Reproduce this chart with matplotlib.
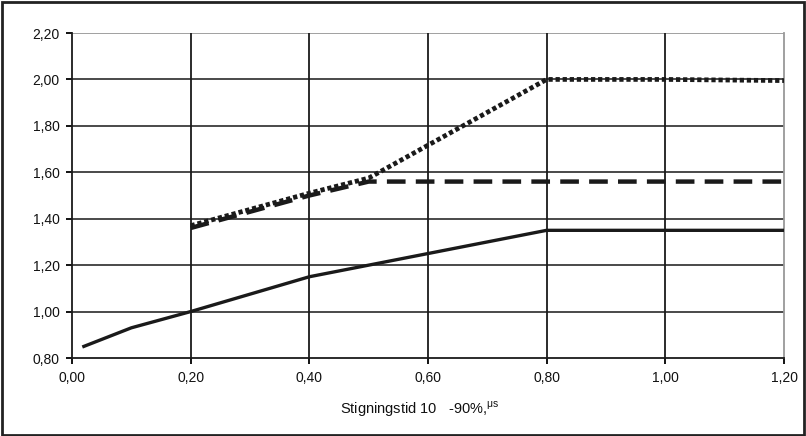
import matplotlib.pyplot as plt
from matplotlib.patches import Rectangle

plt.rcParams['font.family'] = ['Liberation Sans', 'DejaVu Sans']

# data
x_solid = [0.02, 0.10, 0.20, 0.40, 0.50, 0.60, 0.80, 1.20]
y_solid = [0.85, 0.93, 1.00, 1.15, 1.20, 1.25, 1.35, 1.35]
x_dash = [0.20, 0.40, 0.50, 0.80, 1.20]
y_dash = [1.36, 1.50, 1.56, 1.56, 1.56]
x_dot = [0.20, 0.40, 0.50, 0.80, 1.00, 1.20]
y_dot = [1.37, 1.51, 1.575, 2.00, 2.00, 1.995]

xticks = [0.0, 0.2, 0.4, 0.6, 0.8, 1.0, 1.2]
yticks = [0.8, 1.0, 1.2, 1.4, 1.6, 1.8, 2.0, 2.2]

fig = plt.figure(figsize=(8.06, 4.36), dpi=100)
ax = fig.add_axes([72/806, 1 - 358/436, (784-72)/806, (358-33)/436])

# frame around the whole picture
fig.patches.append(Rectangle((0.002, 0.003), 0.995, 0.993, transform=fig.transFigure,
                             fill=False, edgecolor='#222222', linewidth=2))

ax.set_xlim(0, 1.2)
ax.set_ylim(0.8, 2.2)
ax.set_xticks(xticks)
ax.set_yticks(yticks)
ax.set_xticklabels([('%.2f' % v).replace('.', ',') for v in xticks])
ax.set_yticklabels([('%.2f' % v).replace('.', ',') for v in yticks])

for v in yticks[1:-1]:
    ax.axhline(v, color='#3a3a3a', lw=1.3, zorder=1)
ax.axhline(2.2, color='#999999', lw=1.3, zorder=1)
for v in xticks[1:-1]:
    ax.axvline(v, color='#1a1a1a', lw=1.3, zorder=1)

ax.plot(x_solid, y_solid, '-', color='#1a1a1a', lw=2.4, zorder=3)
ax.plot(x_dash, y_dash, color='#1a1a1a', lw=3.2, dashes=(4.2, 2.3), zorder=3)
ax.plot(x_dot, y_dot, color='#1a1a1a', lw=3.4, dashes=(0.9, 0.6), zorder=4)

ax.spines['top'].set_visible(False)
ax.spines['right'].set_color('#999999')
ax.spines['right'].set_linewidth(1.3)
ax.spines['left'].set_color('#1a1a1a')
ax.spines['bottom'].set_color('#1a1a1a')
ax.spines['left'].set_linewidth(1.3)
ax.spines['bottom'].set_linewidth(1.3)
ax.tick_params(direction='out', length=4, width=1.3, labelsize=10, pad=5,
               labelcolor='#111111')

fig.text(420/806, 1 - 409/436, 'Stigningstid 10   -90%,$^{\\mathregular{\\mu s}}$',
         ha='center', va='center', fontsize=10.5, color='#111111')

fig.savefig('out.png', dpi=100)
